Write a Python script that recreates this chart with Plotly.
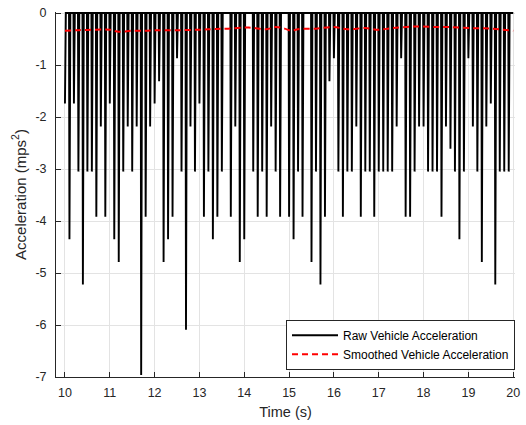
import numpy as np
import plotly.graph_objects as go

# Raw acceleration spikes: one value every 0.1 s from 10.0 s to 19.9 s (mps^2)
spike_start = 10.0
spike_step = 0.1
raw_spikes = [
    -1.74, -4.35, -1.74, -3.05, -5.22, -3.05, -3.05, -3.92, -2.18, -3.92,   # 10.0-10.9
    -1.74, -4.35, -4.79, -3.05, -2.18, -3.05, -2.18, -6.96, -3.92, -2.18,   # 11.0-11.9
    -1.74, -1.31, -4.79, -4.35, -3.92, -0.87, -3.05, -6.09, -2.18, -3.05,   # 12.0-12.9
    -1.74, -3.92, -3.05, -4.35, -3.92, -3.05, 0.0, -3.92, -2.18, -4.79,     # 13.0-13.9
    -4.35, 0.0, -3.05, -3.92, -3.05, -3.92, -2.18, -3.05, -3.92, 0.0,       # 14.0-14.9
    -3.92, -4.35, -3.05, -3.92, 0.0, -4.79, -3.05, -5.22, -3.92, -1.31,     # 15.0-15.9
    -0.87, -3.05, -3.92, -3.05, -3.05, -2.18, -3.92, -3.05, -3.05, -3.92,   # 16.0-16.9
    -3.05, -3.05, -3.05, -3.05, -2.18, -0.87, -3.92, -3.92, -3.05, -2.18,   # 17.0-17.9
    -2.18, -3.05, -3.05, -3.05, -3.92, -2.18, -2.61, -3.05, -4.35, -3.05,   # 18.0-18.9
    -0.87, -2.18, -3.05, -4.79, -2.18, -1.74, -5.22, -3.05, -3.05, -3.05,   # 19.0-19.9
]
raw_end = 20.0
raw_dt = 0.01  # sample period of the raw signal

# Smoothed acceleration
smooth_t = [10.0, 10.3, 10.7, 11.0, 11.2, 11.5, 11.8, 12.0, 12.5, 13.0, 13.3, 13.6,
            14.1, 14.5, 14.7, 14.9, 15.05, 15.2, 15.6, 16.0, 16.3, 16.7, 17.0, 17.3,
            17.8, 18.3, 18.6, 19.1, 19.5, 20.0]
smooth_a = [-0.34, -0.33, -0.32, -0.32, -0.36, -0.34, -0.34, -0.33, -0.33, -0.32, -0.31, -0.30,
            -0.28, -0.31, -0.27, -0.30, -0.34, -0.31, -0.30, -0.27, -0.31, -0.29, -0.32, -0.29,
            -0.26, -0.27, -0.27, -0.29, -0.30, -0.34]

x_ticks = list(range(10, 21))
y_ticks = [0, -1, -2, -3, -4, -5, -6, -7]
y_tick_text = ["0", "-1", "-2", "-3", "-4", "-5", "-6", "-7"]

# Build the raw sampled signal: zero except at the spike samples
n = int(round((raw_end - spike_start) / raw_dt)) + 1
t_raw = np.round(spike_start + np.arange(n) * raw_dt, 4)
a_raw = np.zeros(n)
per = int(round(spike_step / raw_dt))
for i, v in enumerate(raw_spikes):
    a_raw[i * per] = v

FONT = "Liberation Sans, Arial, sans-serif"
AX = "#262626"

fig = go.Figure()
fig.add_trace(go.Scatter(
    x=t_raw, y=a_raw, mode="lines", name="Raw Vehicle Acceleration",
    line=dict(color="#000000", width=1.9),
))
fig.add_trace(go.Scatter(
    x=smooth_t, y=smooth_a, mode="lines", name="Smoothed Vehicle Acceleration",
    line=dict(color="#ff0000", width=2, dash="6px,4px", shape="spline"),
))

fig.update_layout(
    width=526, height=425,
    margin=dict(l=56, r=6, t=11, b=48),
    paper_bgcolor="white", plot_bgcolor="white",
    font=dict(family=FONT, size=12, color=AX),
    showlegend=True,
    legend=dict(
        x=1.0, y=0.02, xanchor="right", yanchor="bottom",
        bgcolor="white", bordercolor=AX, borderwidth=1,
        font=dict(family=FONT, size=12, color="#000000"),
        tracegroupgap=0, itemwidth=46,
    ),
)
fig.update_xaxes(
    range=[9.8, 20.04], tickvals=x_ticks, ticktext=[str(v) for v in x_ticks],
    ticks="inside", ticklen=5, tickcolor=AX, showline=True, linecolor=AX, linewidth=1,
    showgrid=True, gridcolor="#e3e3e3", gridwidth=1, zeroline=False,
    tickfont=dict(size=12.5, color=AX), ticklabelstandoff=4,
    title=dict(text="Time (s)", font=dict(size=14.5, color=AX), standoff=7),
)
fig.update_yaxes(
    range=[-7, 0.02], tickvals=y_ticks, ticktext=y_tick_text,
    ticks="inside", ticklen=5, tickcolor=AX, showline=True, linecolor=AX, linewidth=1,
    showgrid=True, gridcolor="#e3e3e3", gridwidth=1, zeroline=False,
    tickfont=dict(size=12.5, color=AX), ticklabelstandoff=6,
    title=dict(text="Acceleration (mps<sup>2</sup>)", font=dict(size=15, color=AX), standoff=5),
)

fig.write_html("out.html")
